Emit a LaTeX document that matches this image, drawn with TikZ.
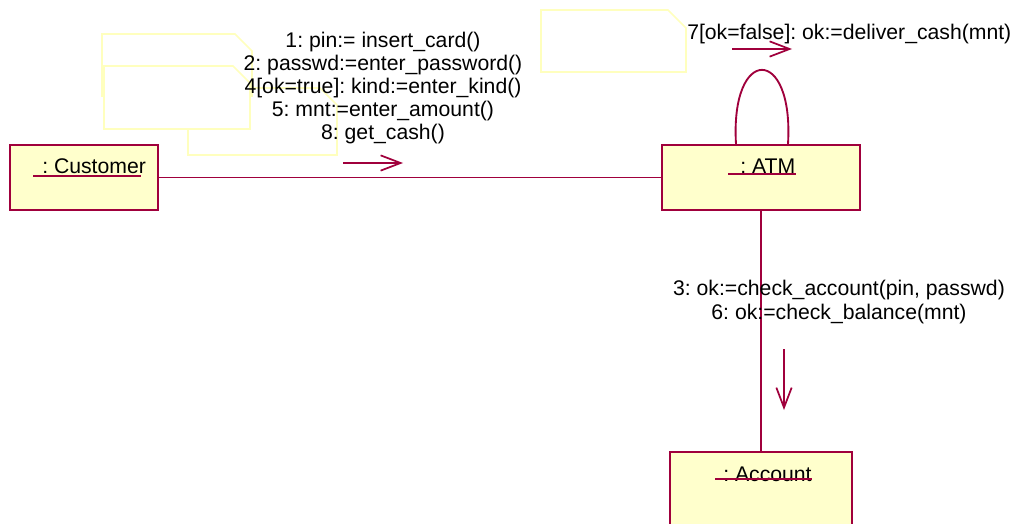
\documentclass[tikz,border=0pt]{standalone}
\usepackage{fontspec}
\setmainfont{Liberation Sans}
\usetikzlibrary{arrows.meta,calc}
\frenchspacing

\definecolor{umlred}{RGB}{160,0,60}
\definecolor{umlfill}{RGB}{255,255,204}
\definecolor{noteline}{RGB}{255,255,190}

\tikzstyle{object} = [rectangle, minimum height=48.75pt, draw=umlred, line width=1.3pt, fill=umlfill, inner sep=0pt]
\tikzstyle{name label} = [inner sep=0pt, font=\fontsize{15.9pt}{17.25pt}\selectfont]
\tikzstyle{msg label} = [inner sep=0pt, font=\fontsize{15.9pt}{17.25pt}\selectfont]
\tikzstyle{link} = [draw=umlred, line width=1.4pt]
\tikzstyle{msg arrow} = [draw=umlred, line width=1.3pt, -{Straight Barb[length=15pt,width=11.5pt]}]
\tikzstyle{note} = [draw=noteline, line width=1.3pt, fill=white]

\begin{document}
\begin{tikzpicture}[x=0.75pt, y=-0.75pt]
	\useasboundingbox (0,0) rectangle (1020,524);
	% Empty notes
	\draw [note] (188,88) -- (320,88) -- (337,105) -- (337,155) -- (188,155) -- cycle;
	\draw [note] (102,34) -- (235,34) -- (252,51) -- (252,96) -- (102,96) -- cycle;
	\draw [note] (104,66) -- (233,66) -- (250,83) -- (250,129) -- (104,129) -- cycle;
	\draw [note] (541,10) -- (668,10) -- (686,28) -- (686,72) -- (541,72) -- cycle;
	% Place nodes
	\node [object, minimum width=111pt] (customer) at (84,177.5) {};
	\node [object, minimum width=148.5pt] (atm) at (761,177.5) {};
	\node [object, minimum width=136.5pt, minimum height=66pt] (account) at (761,496) {};
	\node [name label, anchor=base west] (customerlabel) at (42,174) {: Customer};
	\node [name label, anchor=base west] (atmlabel) at (740,173) {: ATM};
	\node [name label, anchor=base west] (accountlabel) at (723,481) {: Account};
	\draw [link, line width=1pt] ($(customerlabel.base west)+(-9,2)$) -- ($(customerlabel.base east)+(-5,2)$);
	\draw [link, line width=1pt] ($(atmlabel.base west)+(-12,1)$) -- ($(atmlabel.base east)+(0,1)$);
	\draw [link, line width=1pt] ($(accountlabel.base west)+(-8,-2)$) -- ($(accountlabel.base east)+(0,-2)$);
	% Draw edges
	\draw [link] (customer) -- (atm);
	\draw [link] (atm) -- (account);
	\coordinate (loopleft) at ($(atm.north)+(-25,0)$);
	\coordinate (loopright) at ($(atm.north)+(27,0)$);
	\draw [link] (loopleft) .. controls +(-6,-99) and +(6,-99) .. (loopright);
	% Messages
	\coordinate (custarrowstart) at (343,163);
	\coordinate (custarrowend) at (403,163);
	\draw [msg arrow] (custarrowstart) -- (custarrowend);
	\coordinate (selfarrowstart) at (732,49);
	\coordinate (selfarrowend) at (792,49);
	\draw [msg arrow] (selfarrowstart) -- (selfarrowend);
	\coordinate (acctarrowstart) at (784,349);
	\coordinate (acctarrowend) at (784,410);
	\draw [msg arrow] (acctarrowstart) -- (acctarrowend);
	\node [msg label, align=center] (custmsg) at (383,88) {1: pin:= insert\_card()\\2: passwd:=enter\_password()\\4[ok=true]: kind:=enter\_kind()\\5: mnt:=enter\_amount()\\8: get\_cash()};
	\node [msg label, anchor=base west] (selfmsg) at (687,40) {7[ok=false]: ok:=deliver\_cash(mnt)};
	\node [msg label, align=center, font=\fontsize{15.9pt}{18pt}\selectfont] (acctmsg) at (839,302) {3: ok:=check\_account(pin, passwd)\\6: ok:=check\_balance(mnt)};
\end{tikzpicture}
\end{document}
